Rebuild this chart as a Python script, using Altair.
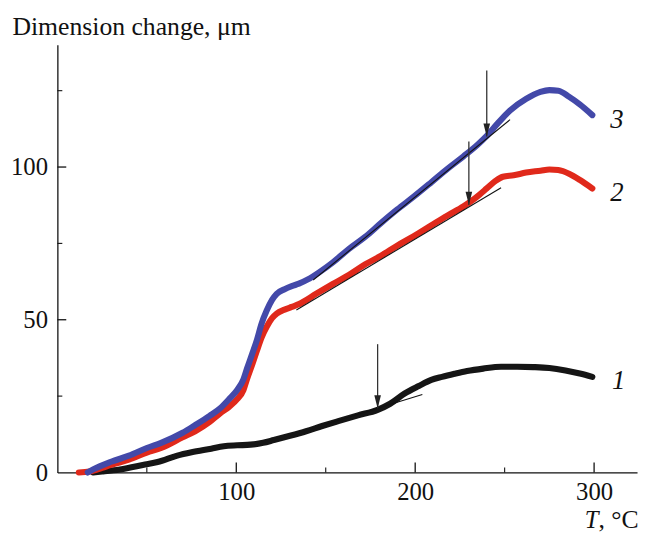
import altair as alt
import pandas as pd

# ---- data ----
t3 = [17, 20, 30, 40, 50, 58, 70, 77, 85, 91, 96, 100.5, 104, 106, 109, 111.6, 114, 117, 120, 122.6,
      127, 131, 135, 140, 146, 154, 163, 172, 181, 190, 199, 209, 218, 227, 235, 240, 246, 253, 262,
      270, 275, 280, 286, 292, 299]
d3 = [0, 1, 3.5, 5.5, 8, 9.7, 13, 15.5, 18.5, 21, 24, 27, 30.5, 34, 39, 43.5, 48.5, 53, 56.5, 58.5,
      60, 61, 61.8, 63.2, 65.4, 68.8, 73.2, 77.1, 81.7, 86.1, 90.2, 95.0, 99.4, 103.5, 107.4, 110.2,
      114.2, 118.5, 122.3, 124.6, 125.2, 125, 123, 120.5, 117]

t2 = [12, 18, 25, 30, 40, 50, 58, 70, 77, 85, 91, 96, 100.5, 104, 106, 109, 111.6, 114, 117, 120,
      122.6, 127, 131, 135, 145, 154, 163, 172, 181, 190, 199, 209, 218, 227, 231, 236, 240, 245,
      249, 255, 262, 270, 275, 280, 286, 292, 299]
d2 = [0, 0.3, 1.5, 2.5, 4.2, 6.5, 8, 11.5, 13.5, 16.5, 19.4, 21.5, 24, 27, 30.6, 35.5, 40, 44, 47.7,
      50.5, 52, 53.3, 54.2, 55.1, 58.6, 61.7, 64.7, 68.1, 71.0, 74.3, 77.3, 80.9, 84.1, 87.1, 88.7,
      91, 93, 95.5, 96.8, 97.3, 98.2, 98.8, 99.2, 99, 97.8, 95.8, 93]

t1 = [20, 25, 35, 49, 56, 67, 75, 86, 93, 100.5, 108, 115, 121, 130, 139, 148, 157, 168, 179, 186,
      194, 202, 209, 215, 222, 229, 238, 248, 257, 266, 275, 284, 292, 299]
d1 = [0, 0.3, 1, 2.6, 3.4, 5.5, 6.6, 7.8, 8.6, 8.9, 9.1, 9.7, 10.6, 12, 13.5, 15.2, 16.8, 18.7, 20.5,
      22.5, 25.8, 28.3, 30.3, 31.3, 32.3, 33.2, 34, 34.6, 34.6, 34.5, 34.2, 33.4, 32.4, 31.3]

# tangent segments (id, T, D)
tan_id = ["3", "3", "2", "2", "1", "1"]
tan_t = [143, 253, 133.6, 248, 150, 204]
tan_d = [63, 115.5, 53.2, 93.2, 15.8, 25.5]

# arrows: T position, top D, tip D
arr_t = [240, 230, 179]
arr_top = [131.6, 108.4, 42]
arr_tip = [110.0, 87.6, 21]

# curve labels
lab_text = ["3", "2", "1"]
lab_t = [309, 309, 310]
lab_d = [115.5, 91.5, 30]

y_ticks = [0, 50, 100]
x_ticks = [100, 200, 300]
y_major = [50, 100]
y_minor = [25, 75, 125]
x_major = [100, 200, 300]
x_minor = [50, 150, 250]

FONT = "Liberation Serif"
XDOM = [0, 324]
YDOM = [0, 140]

xs = alt.Scale(domain=XDOM, nice=False, zero=False)
ys = alt.Scale(domain=YDOM, nice=False, zero=False)
LW = 6.2


def curve(t, d, color):
    df = pd.DataFrame({"T": t, "D": d})
    return alt.Chart(df).mark_line(color=color, strokeWidth=LW, strokeCap="round",
                                   strokeJoin="round", interpolate="monotone").encode(
        x=alt.X("T:Q", scale=xs), y=alt.Y("D:Q", scale=ys))


base_df = pd.DataFrame({"T": t1, "D": d1})
black = alt.Chart(base_df).mark_line(color="#151515", strokeWidth=LW, strokeCap="round",
                                      strokeJoin="round", interpolate="monotone").encode(
    x=alt.X("T:Q", scale=xs,
            axis=alt.Axis(values=x_ticks, ticks=False, grid=False, title=None,
                          labelFont=FONT, labelFontSize=25, labelColor="#111",
                          labelPadding=7, domainColor="#111", domainWidth=1.3)),
    y=alt.Y("D:Q", scale=ys,
            axis=alt.Axis(values=y_ticks, ticks=False, grid=False,
                          title="Dimension change, μm", titleAngle=0, titleAlign="left",
                          titleBaseline="alphabetic", titleX=-46, titleY=-11,
                          titleFont=FONT, titleFontSize=26, titleFontWeight="normal",
                          titleColor="#111",
                          labelFont=FONT, labelFontSize=25, labelColor="#111",
                          labelPadding=10, domainColor="#111", domainWidth=1.3)),
)
red = curve(t2, d2, "#E0291B")
blue = curve(t3, d3, "#4349A9")

tan = alt.Chart(pd.DataFrame({"id": tan_id, "T": tan_t, "D": tan_d})).mark_line(
    color="#111", strokeWidth=1.1).encode(
    x=alt.X("T:Q", scale=xs), y=alt.Y("D:Q", scale=ys), detail="id:N")

arr_df = pd.DataFrame({"T": arr_t, "top": arr_top, "tip": arr_tip})
shafts = alt.Chart(arr_df).mark_rule(color="#333", strokeWidth=1.3).encode(
    x=alt.X("T:Q", scale=xs), y=alt.Y("top:Q", scale=ys), y2="tip:Q")
heads = alt.Chart(arr_df).mark_point(
    shape="M-0.5,-1L0.5,-1L0,1Z", size=180, filled=True, color="#222", opacity=1,
    yOffset=-6.5, strokeWidth=0).encode(
    x=alt.X("T:Q", scale=xs), y=alt.Y("tip:Q", scale=ys))

labels = alt.Chart(pd.DataFrame({"T": lab_t, "D": lab_d, "txt": lab_text})).mark_text(
    font=FONT, fontSize=27, fontStyle="italic", color="#111", align="left",
    baseline="middle").encode(
    x=alt.X("T:Q", scale=xs), y=alt.Y("D:Q", scale=ys), text="txt:N")

ymaj = alt.Chart(pd.DataFrame({"D": y_major})).mark_rule(color="#111", strokeWidth=1.3).encode(
    y=alt.Y("D:Q", scale=ys), x=alt.value(0), x2=alt.value(9))
ymin = alt.Chart(pd.DataFrame({"D": y_minor})).mark_rule(color="#111", strokeWidth=1.1).encode(
    y=alt.Y("D:Q", scale=ys), x=alt.value(0), x2=alt.value(5))
xmaj = alt.Chart(pd.DataFrame({"T": x_major})).mark_rule(color="#111", strokeWidth=1.3).encode(
    x=alt.X("T:Q", scale=xs), y=alt.value(433), y2=alt.value(423))
xmin = alt.Chart(pd.DataFrame({"T": x_minor})).mark_rule(color="#111", strokeWidth=1.1).encode(
    x=alt.X("T:Q", scale=xs), y=alt.value(433), y2=alt.value(428))

xt1 = alt.Chart(pd.DataFrame({"s": ["T"]})).mark_text(
    font=FONT, fontSize=25, fontStyle="italic", color="#111", align="left",
    baseline="alphabetic").encode(x=alt.value(534), y=alt.value(489), text="s:N")
xt2 = alt.Chart(pd.DataFrame({"s": [", °C"]})).mark_text(
    font=FONT, fontSize=26, color="#111", align="left",
    baseline="alphabetic").encode(x=alt.value(548), y=alt.value(489), text="s:N")

chart = alt.layer(black, red, blue, tan, shafts, heads, labels,
                  ymaj, ymin, xmaj, xmin, xt1, xt2).properties(
    width=587, height=433,
    autosize=alt.AutoSizeParams(type="none"),
    padding={"left": 50, "top": 34, "right": 3, "bottom": 60},
    background="white",
).configure_view(stroke=None)

chart.save("out.html", embed_options={"renderer": "svg", "actions": False})
